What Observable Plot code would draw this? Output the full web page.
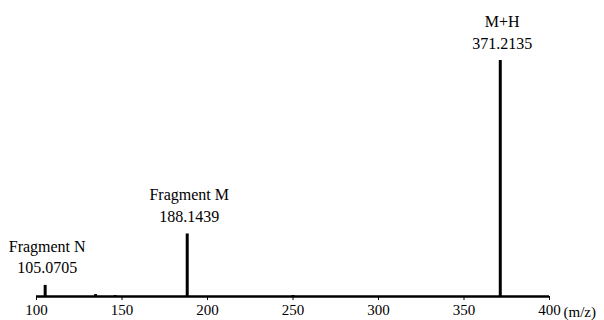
<!DOCTYPE html>
<html><head><meta charset="utf-8">
<script src="https://cdn.jsdelivr.net/npm/d3@7"></script>
<script src="https://cdn.jsdelivr.net/npm/@observablehq/plot@0.6"></script>
<style>body{margin:0;background:#fff}</style>
</head><body><div id="chart"></div>
<script>
// Peaks (m/z, relative intensity)
const peakMz = [105.07, 134.5, 146, 188.14, 250, 371.21];
const peakIntensity = [4.7, 0.8, 0.4, 26.5, 0.4, 100];
// Annotated peaks
const labelMz = [105.07, 188.14, 371.21];
const labelIntensity = [4.7, 26.5, 100];
const labelText = ["Fragment N\n105.0705", "Fragment M\n188.1439", "M+H\n371.2135"];
const xTicks = [100, 150, 200, 250, 300, 350, 400];
const unitLabel = "(m/z)";

const peaks = peakMz.map((x, i) => ({x, y: peakIntensity[i]}));
const labels = labelMz.map((x, i) => ({x, y: labelIntensity[i], t: labelText[i]}));

const font = "'Liberation Serif', 'DejaVu Serif', serif";
const chart = Plot.plot({
  width: 604, height: 320,
  marginLeft: 36, marginRight: 55, marginTop: 60, marginBottom: 24,
  style: {fontFamily: font, fontSize: "15px", color: "#000", background: "#fff"},
  x: {domain: [100, 400], ticks: xTicks, tickSize: 4, tickPadding: 4, label: null},
  y: {domain: [0, 100], axis: null},
  marks: [
    Plot.ruleX(peaks, {x: "x", y1: 0, y2: "y", stroke: "#000", strokeWidth: 3}),
    Plot.ruleY([0], {x1: 100, x2: 400, stroke: "#000", strokeWidth: 2.5}),
    Plot.text(labels, {x: "x", y: "y", text: "t", dx: 2, dy: -12, lineAnchor: "bottom", lineHeight: 1.35, fontSize: 16, fill: "#000"}),
    Plot.text([unitLabel], {x: 400, y: 0, dx: 14, dy: 16, textAnchor: "start", fontSize: 15, fill: "#000"})
  ]
});
document.getElementById("chart").append(chart);
</script></body></html>
